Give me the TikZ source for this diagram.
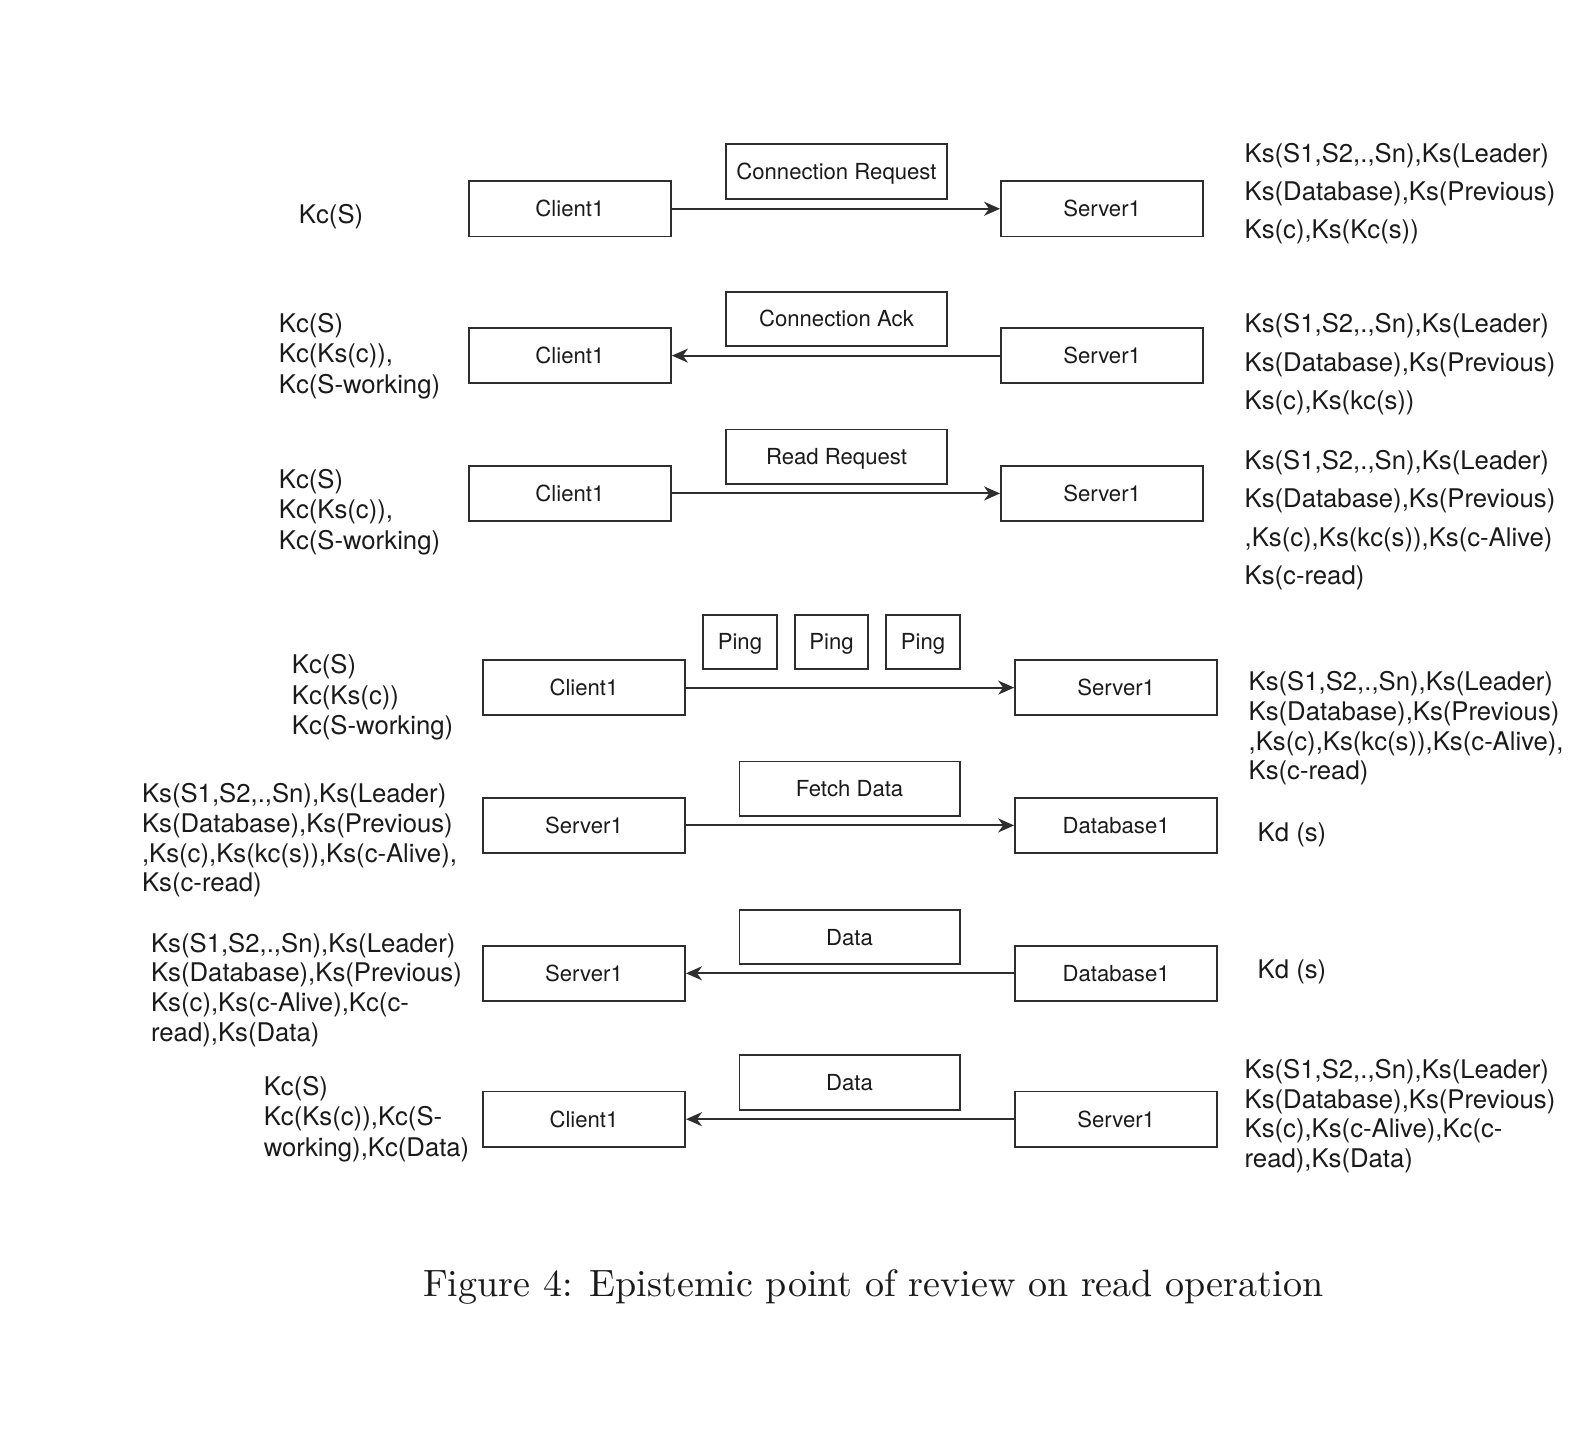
\documentclass[tikz,border=0pt]{standalone}
\usepackage{fontspec}
\setsansfont{TeX Gyre Heros}
\newfontfamily\capfont{lmroman10-regular.otf}
\usetikzlibrary{arrows.meta}
\definecolor{ink}{HTML}{1A1A1A}
\definecolor{edge}{HTML}{2E2E2E}
\tikzset{
  boxbase/.style={draw=edge, line width=1.8bp, inner sep=0pt, text height=16bp, text depth=0bp,
    font=\sffamily\fontsize{22.2}{26}\selectfont, text=ink},
  ent/.style={boxbase, minimum width=202.2bp, minimum height=55.3bp},
  msg/.style={boxbase, minimum width=220.3bp, minimum height=54.3bp},
  pingbox/.style={boxbase, minimum width=73.4bp, minimum height=54.3bp},
  know/.style={anchor=west, align=left, inner sep=0pt, text=ink},
  wide/.style={know, font=\sffamily\fontsize{25.8}{38.5}\selectfont},
  tight/.style={know, font=\sffamily\fontsize{25.8}{29.8}\selectfont},
  mid/.style={know, font=\sffamily\fontsize{25.8}{30.6}\selectfont},
  conn/.style={draw=edge, line width=2bp, -{Stealth[length=16bp,width=14bp,inset=5bp]}},
}
\begin{document}
\begin{tikzpicture}[x=1.006bp,y=-1.006bp]
\useasboundingbox (0,0) rectangle (1567.6,1429.4);
% Row 1
\node[ent] (c1) at (566.5,207.5) {Client1};
\node[ent] (s1) at (1095.5,207.5) {Server1};
\node[msg] (m1) at (831.5,170.5) {Connection Request};
\draw[conn] (c1.east) -- (s1.west);
\node[mid] (k1l) at (297,215) {Kc(S)};
\node[wide] (k1r) at (1237,192.5) {Ks(S1,S2,.,Sn),Ks(Leader)\\Ks(Database),Ks(Previous)\\Ks(c),Ks(Kc(s))};
% Row 2
\node[ent] (c2) at (566.5,353.5) {Client1};
\node[ent] (s2) at (1095.5,353.5) {Server1};
\node[msg] (m2) at (831.5,317) {Connection Ack};
\draw[conn] (s2.west) -- (c2.east);
\node[mid] (k2l) at (277,354) {Kc(S)\\Kc(Ks(c)),\\Kc(S-working)};
\node[wide] (k2r) at (1237,362) {Ks(S1,S2,.,Sn),Ks(Leader)\\Ks(Database),Ks(Previous)\\Ks(c),Ks(kc(s))};
% Row 3
\node[ent] (c3) at (566.5,490.5) {Client1};
\node[ent] (s3) at (1095.5,490.5) {Server1};
\node[msg] (m3) at (831.5,454) {Read Request};
\draw[conn] (c3.east) -- (s3.west);
\node[mid] (k3l) at (277,509) {Kc(S)\\Kc(Ks(c)),\\Kc(S-working)};
\node[wide] (k3r) at (1237,517) {Ks(S1,S2,.,Sn),Ks(Leader)\\Ks(Database),Ks(Previous)\\,Ks(c),Ks(kc(s)),Ks(c-Alive)\\Ks(c-read)};
% Row 4
\node[ent] (c4) at (580.5,683.5) {Client1};
\node[ent] (s4) at (1109.5,683.5) {Server1};
\node[pingbox] (p1) at (735.5,638) {Ping};
\node[pingbox] (p2) at (826.5,638) {Ping};
\node[pingbox] (p3) at (917.5,638) {Ping};
\draw[conn] (c4.east) -- (s4.west);
\node[mid] (k4l) at (290,693.5) {Kc(S)\\Kc(Ks(c))\\Kc(S-working)};
\node[tight] (k4r) at (1241,724) {Ks(S1,S2,.,Sn),Ks(Leader)\\Ks(Database),Ks(Previous)\\,Ks(c),Ks(kc(s)),Ks(c-Alive),\\Ks(c-read)};
% Row 5
\node[ent] (s5) at (580.5,820.5) {Server1};
\node[ent] (d5) at (1109.5,820.5) {Database1};
\node[msg] (m5) at (844.5,784) {Fetch Data};
\draw[conn] (s5.east) -- (d5.west);
\node[tight] (k5l) at (141,835.5) {Ks(S1,S2,.,Sn),Ks(Leader)\\Ks(Database),Ks(Previous)\\,Ks(c),Ks(kc(s)),Ks(c-Alive),\\Ks(c-read)};
\node[mid] (k5r) at (1250,829.5) {Kd (s)};
% Row 6
\node[ent] (s6) at (580.5,967.5) {Server1};
\node[ent] (d6) at (1109.5,967.5) {Database1};
\node[msg] (m6) at (844.5,931.5) {Data};
\draw[conn] (d6.west) -- (s6.east);
\node[tight] (k6l) at (150,984) {Ks(S1,S2,.,Sn),Ks(Leader)\\Ks(Database),Ks(Previous)\\Ks(c),Ks(c-Alive),Kc(c-\\read),Ks(Data)};
\node[mid] (k6r) at (1250,966.5) {Kd (s)};
% Row 7
\node[ent] (c7) at (580.5,1112.5) {Client1};
\node[ent] (s7) at (1109.5,1112.5) {Server1};
\node[msg] (m7) at (844.5,1076) {Data};
\draw[conn] (s7.west) -- (c7.east);
\node[mid] (k7l) at (262,1112.5) {Kc(S)\\Kc(Ks(c)),Kc(S-\\working),Kc(Data)};
\node[tight] (k7r) at (1237,1109.5) {Ks(S1,S2,.,Sn),Ks(Leader)\\Ks(Database),Ks(Previous)\\Ks(c),Ks(c-Alive),Kc(c-\\read),Ks(Data)};
% Caption
\node[anchor=base, inner sep=0pt, font=\capfont\fontsize{38.2}{44}\selectfont, text=ink] (cap) at (868,1289) {Figure 4: Epistemic point of review on read operation};
\end{tikzpicture}
\end{document}
